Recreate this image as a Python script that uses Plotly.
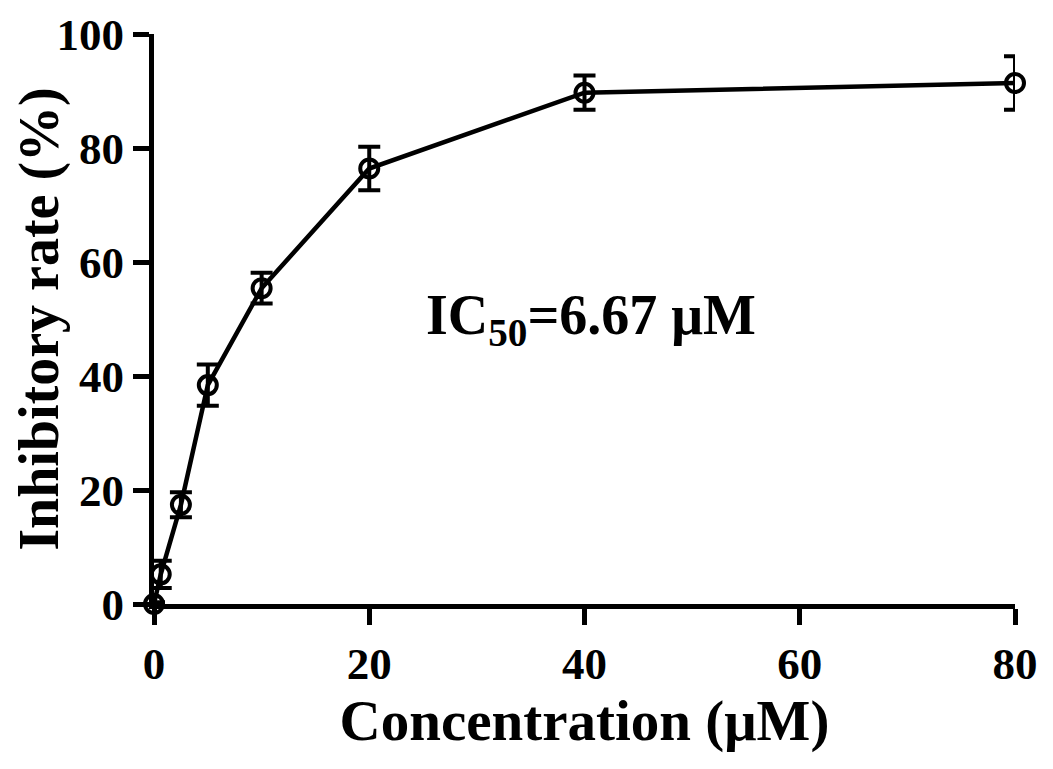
import plotly.graph_objects as go

conc = [0, 0.625, 2.5, 5, 10, 20, 40, 80]
inhibition = [0, 5.2, 17.4, 38.4, 55.4, 76.4, 89.7, 91.4]
sd = [0.3, 2.4, 2.2, 3.6, 2.7, 3.8, 3.0, 4.7]

x_ticks = [0, 20, 40, 60, 80]
y_ticks = [0, 20, 40, 60, 80, 100]

font_family = "Liberation Serif, Times New Roman, serif"

fig = go.Figure()
fig.add_trace(
    go.Scatter(
        x=conc,
        y=inhibition,
        mode="lines+markers",
        line={"color": "black", "width": 4.5},
        marker={
            "symbol": "circle-open",
            "size": 18,
            "color": "black",
            "line": {"width": 4, "color": "black"},
        },
        error_y={
            "type": "data",
            "array": sd,
            "visible": True,
            "color": "black",
            "thickness": 4,
            "width": 11,
        },
        cliponaxis=False,
        showlegend=False,
    )
)

fig.add_annotation(
    x=40.6,
    y=50,
    xref="x",
    yref="y",
    text="IC<sub>50</sub>=6.67 μM",
    showarrow=False,
    font={"family": font_family, "size": 56, "color": "black", "weight": 700},
)

axis_common = dict(
    showline=True,
    linecolor="black",
    linewidth=5,
    ticks="outside",
    ticklen=16,
    tickwidth=5,
    tickcolor="black",
    showgrid=False,
    zeroline=False,
    automargin=False,
    ticklabeloverflow="allow",
    tickfont={"family": font_family, "size": 45, "color": "black", "weight": 700},
)

fig.update_xaxes(
    range=[0, 80],
    tickvals=x_ticks,
    title={
        "text": "Concentration (μM)",
        "font": {"family": font_family, "size": 57, "color": "black", "weight": 700},
        "standoff": 14,
    },
    **axis_common,
)
fig.update_yaxes(
    range=[0, 100],
    tickvals=y_ticks,
    title={
        "text": "Inhibitory rate (%)",
        "font": {"family": font_family, "size": 56, "color": "black", "weight": 700},
        "standoff": 26,
    },
    **axis_common,
)

# page body adds an 8px offset, so the figure is a bit smaller than the window
fig.update_layout(
    width=1037,
    height=753,
    margin={"l": 146, "r": 30, "t": 26, "b": 157},
    plot_bgcolor="white",
    paper_bgcolor="white",
)

fig.write_html("out.html")
